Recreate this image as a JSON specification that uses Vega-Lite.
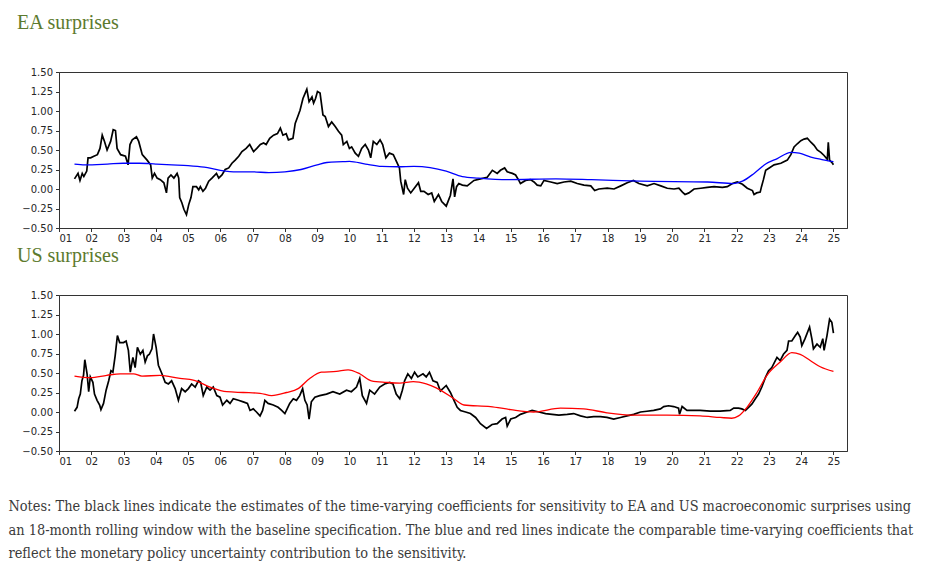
{
  "$schema": "https://vega.github.io/schema/vega-lite/v6.json",
  "padding": {"left": 8, "top": 12, "right": 10, "bottom": 10},
  "background": "white",
  "spacing": 1,
  "title": {
    "text": [
      "Notes: The black lines indicate the estimates of the time-varying coefficients for sensitivity to EA and US macroeconomic surprises using",
      "an 18-month rolling window with the baseline specification. The blue and red lines indicate the comparable time-varying coefficients that",
      "reflect the monetary policy uncertainty contribution to the sensitivity."
    ],
    "orient": "bottom",
    "anchor": "start",
    "frame": "bounds",
    "dx": -8,
    "offset": 33,
    "font": "DejaVu Serif Condensed",
    "fontSize": 14.4,
    "fontWeight": "normal",
    "lineHeight": 23.5,
    "color": "#3a3a3a"
  },
  "datasets": {
    "ea_black": [
      {"t":1.48,"v":0.13},{"t":1.59,"v":0.20},{"t":1.65,"v":0.11},{"t":1.72,"v":0.20},{"t":1.77,"v":0.16},{"t":1.86,"v":0.23},{"t":1.90,"v":0.40},{"t":1.98,"v":0.40},{"t":2.08,"v":0.42},{"t":2.19,"v":0.44},{"t":2.27,"v":0.52},{"t":2.34,"v":0.69},{"t":2.41,"v":0.61},{"t":2.49,"v":0.50},{"t":2.60,"v":0.61},{"t":2.68,"v":0.76},{"t":2.75,"v":0.75},{"t":2.80,"v":0.52},{"t":2.91,"v":0.44},{"t":3.06,"v":0.42},{"t":3.14,"v":0.31},{"t":3.20,"v":0.57},{"t":3.27,"v":0.63},{"t":3.40,"v":0.67},{"t":3.47,"v":0.61},{"t":3.58,"v":0.44},{"t":3.73,"v":0.37},{"t":3.84,"v":0.31},{"t":3.89,"v":0.14},{"t":3.96,"v":0.20},{"t":4.04,"v":0.14},{"t":4.14,"v":0.12},{"t":4.25,"v":0.08},{"t":4.33,"v":-0.05},{"t":4.38,"v":0.14},{"t":4.47,"v":0.18},{"t":4.56,"v":0.14},{"t":4.66,"v":0.20},{"t":4.71,"v":0.14},{"t":4.74,"v":-0.11},{"t":4.81,"v":-0.18},{"t":4.87,"v":-0.26},{"t":4.95,"v":-0.33},{"t":5.02,"v":-0.20},{"t":5.09,"v":-0.11},{"t":5.15,"v":0.03},{"t":5.26,"v":0.03},{"t":5.33,"v":-0.01},{"t":5.38,"v":0.03},{"t":5.46,"v":-0.03},{"t":5.54,"v":0.01},{"t":5.64,"v":0.10},{"t":5.74,"v":0.14},{"t":5.88,"v":0.20},{"t":5.95,"v":0.14},{"t":6.05,"v":0.18},{"t":6.15,"v":0.25},{"t":6.26,"v":0.27},{"t":6.36,"v":0.33},{"t":6.46,"v":0.37},{"t":6.57,"v":0.42},{"t":6.67,"v":0.48},{"t":6.80,"v":0.52},{"t":6.91,"v":0.57},{"t":7.03,"v":0.48},{"t":7.13,"v":0.52},{"t":7.24,"v":0.57},{"t":7.34,"v":0.59},{"t":7.42,"v":0.57},{"t":7.53,"v":0.65},{"t":7.65,"v":0.69},{"t":7.77,"v":0.71},{"t":7.86,"v":0.78},{"t":7.94,"v":0.69},{"t":8.04,"v":0.71},{"t":8.11,"v":0.63},{"t":8.25,"v":0.65},{"t":8.32,"v":0.84},{"t":8.40,"v":0.93},{"t":8.47,"v":1.01},{"t":8.56,"v":1.16},{"t":8.63,"v":1.23},{"t":8.68,"v":1.28},{"t":8.75,"v":1.12},{"t":8.84,"v":1.18},{"t":8.89,"v":1.10},{"t":8.95,"v":1.16},{"t":9.01,"v":1.25},{"t":9.09,"v":1.23},{"t":9.18,"v":0.95},{"t":9.25,"v":0.93},{"t":9.35,"v":0.80},{"t":9.45,"v":0.86},{"t":9.56,"v":0.80},{"t":9.66,"v":0.74},{"t":9.76,"v":0.69},{"t":9.81,"v":0.57},{"t":9.92,"v":0.61},{"t":10.00,"v":0.52},{"t":10.07,"v":0.54},{"t":10.18,"v":0.46},{"t":10.28,"v":0.42},{"t":10.38,"v":0.52},{"t":10.49,"v":0.57},{"t":10.59,"v":0.50},{"t":10.66,"v":0.40},{"t":10.74,"v":0.61},{"t":10.85,"v":0.57},{"t":10.95,"v":0.63},{"t":11.03,"v":0.57},{"t":11.13,"v":0.40},{"t":11.24,"v":0.46},{"t":11.36,"v":0.44},{"t":11.46,"v":0.35},{"t":11.55,"v":0.27},{"t":11.59,"v":0.10},{"t":11.68,"v":-0.07},{"t":11.73,"v":0.12},{"t":11.80,"v":0.01},{"t":11.90,"v":-0.05},{"t":12.01,"v":0.01},{"t":12.14,"v":0.08},{"t":12.21,"v":-0.03},{"t":12.31,"v":-0.03},{"t":12.44,"v":-0.07},{"t":12.55,"v":-0.05},{"t":12.63,"v":-0.16},{"t":12.76,"v":-0.07},{"t":12.86,"v":-0.16},{"t":13.00,"v":-0.22},{"t":13.13,"v":-0.08},{"t":13.21,"v":0.13},{"t":13.26,"v":-0.10},{"t":13.32,"v":0.03},{"t":13.39,"v":0.07},{"t":13.50,"v":0.05},{"t":13.65,"v":0.04},{"t":13.86,"v":0.11},{"t":14.06,"v":0.13},{"t":14.27,"v":0.15},{"t":14.43,"v":0.24},{"t":14.58,"v":0.20},{"t":14.68,"v":0.24},{"t":14.81,"v":0.27},{"t":14.89,"v":0.22},{"t":15.05,"v":0.20},{"t":15.15,"v":0.18},{"t":15.25,"v":0.11},{"t":15.30,"v":0.07},{"t":15.46,"v":0.11},{"t":15.61,"v":0.12},{"t":15.72,"v":0.09},{"t":15.82,"v":0.05},{"t":15.93,"v":0.04},{"t":16.03,"v":0.11},{"t":16.24,"v":0.09},{"t":16.44,"v":0.07},{"t":16.65,"v":0.09},{"t":16.86,"v":0.10},{"t":17.06,"v":0.07},{"t":17.27,"v":0.05},{"t":17.48,"v":0.04},{"t":17.60,"v":-0.02},{"t":17.73,"v":0.00},{"t":17.99,"v":0.01},{"t":18.20,"v":0.00},{"t":18.41,"v":0.04},{"t":18.61,"v":0.08},{"t":18.80,"v":0.11},{"t":18.97,"v":0.07},{"t":19.23,"v":0.04},{"t":19.44,"v":0.07},{"t":19.65,"v":0.04},{"t":19.85,"v":0.01},{"t":20.06,"v":0.00},{"t":20.21,"v":0.01},{"t":20.32,"v":-0.04},{"t":20.40,"v":-0.07},{"t":20.52,"v":-0.05},{"t":20.68,"v":0.00},{"t":20.89,"v":0.01},{"t":21.09,"v":0.02},{"t":21.30,"v":0.03},{"t":21.56,"v":0.02},{"t":21.71,"v":0.03},{"t":21.87,"v":0.07},{"t":22.02,"v":0.09},{"t":22.18,"v":0.06},{"t":22.33,"v":0.01},{"t":22.49,"v":-0.02},{"t":22.54,"v":-0.07},{"t":22.62,"v":-0.05},{"t":22.73,"v":-0.04},{"t":22.77,"v":0.03},{"t":22.83,"v":0.12},{"t":22.90,"v":0.24},{"t":23.01,"v":0.27},{"t":23.16,"v":0.31},{"t":23.37,"v":0.33},{"t":23.57,"v":0.37},{"t":23.68,"v":0.44},{"t":23.78,"v":0.54},{"t":23.88,"v":0.58},{"t":23.99,"v":0.62},{"t":24.09,"v":0.64},{"t":24.19,"v":0.65},{"t":24.30,"v":0.60},{"t":24.40,"v":0.56},{"t":24.50,"v":0.50},{"t":24.61,"v":0.47},{"t":24.71,"v":0.43},{"t":24.81,"v":0.38},{"t":24.84,"v":0.60},{"t":24.88,"v":0.37},{"t":24.97,"v":0.33},{"t":25.00,"v":0.31}
    ],
    "ea_mpu": [
      {"t":1.48,"v":0.32},{"t":1.8,"v":0.31},{"t":2.5,"v":0.32},{"t":3.0,"v":0.33},{"t":3.5,"v":0.33},{"t":4.0,"v":0.32},{"t":4.5,"v":0.31},{"t":5.0,"v":0.30},{"t":5.5,"v":0.28},{"t":6.0,"v":0.24},{"t":6.5,"v":0.22},{"t":7.0,"v":0.22},{"t":7.5,"v":0.21},{"t":8.0,"v":0.22},{"t":8.5,"v":0.25},{"t":9.0,"v":0.31},{"t":9.3,"v":0.34},{"t":9.8,"v":0.35},{"t":10.0,"v":0.355},{"t":10.5,"v":0.32},{"t":11.0,"v":0.29},{"t":11.5,"v":0.285},{"t":12.0,"v":0.29},{"t":12.5,"v":0.275},{"t":13.0,"v":0.23},{"t":13.5,"v":0.16},{"t":14.0,"v":0.14},{"t":14.9,"v":0.12},{"t":16.4,"v":0.13},{"t":17.5,"v":0.12},{"t":19.0,"v":0.10},{"t":21.1,"v":0.09},{"t":21.9,"v":0.07},{"t":22.18,"v":0.10},{"t":22.54,"v":0.20},{"t":22.9,"v":0.32},{"t":23.26,"v":0.39},{"t":23.68,"v":0.47},{"t":23.94,"v":0.46},{"t":24.3,"v":0.41},{"t":24.61,"v":0.38},{"t":25.0,"v":0.35}
    ],
    "us_black": [
      {"t":1.48,"v":0.01},{"t":1.56,"v":0.06},{"t":1.61,"v":0.17},{"t":1.66,"v":0.23},{"t":1.71,"v":0.40},{"t":1.76,"v":0.47},{"t":1.80,"v":0.67},{"t":1.87,"v":0.49},{"t":1.92,"v":0.26},{"t":1.97,"v":0.45},{"t":2.05,"v":0.38},{"t":2.10,"v":0.23},{"t":2.18,"v":0.15},{"t":2.26,"v":0.09},{"t":2.30,"v":0.03},{"t":2.38,"v":0.11},{"t":2.46,"v":0.28},{"t":2.54,"v":0.40},{"t":2.61,"v":0.53},{"t":2.67,"v":0.51},{"t":2.74,"v":0.72},{"t":2.81,"v":0.98},{"t":2.88,"v":0.89},{"t":3.00,"v":0.89},{"t":3.08,"v":0.91},{"t":3.15,"v":0.79},{"t":3.21,"v":0.51},{"t":3.29,"v":0.70},{"t":3.36,"v":0.57},{"t":3.43,"v":0.83},{"t":3.52,"v":0.74},{"t":3.60,"v":0.79},{"t":3.67,"v":0.64},{"t":3.74,"v":0.72},{"t":3.80,"v":0.74},{"t":3.88,"v":0.81},{"t":3.93,"v":1.00},{"t":4.01,"v":0.83},{"t":4.08,"v":0.60},{"t":4.19,"v":0.49},{"t":4.29,"v":0.38},{"t":4.39,"v":0.36},{"t":4.49,"v":0.40},{"t":4.60,"v":0.30},{"t":4.70,"v":0.15},{"t":4.80,"v":0.30},{"t":4.91,"v":0.26},{"t":5.01,"v":0.30},{"t":5.11,"v":0.36},{"t":5.22,"v":0.32},{"t":5.32,"v":0.40},{"t":5.39,"v":0.38},{"t":5.47,"v":0.21},{"t":5.58,"v":0.32},{"t":5.68,"v":0.28},{"t":5.78,"v":0.32},{"t":5.89,"v":0.21},{"t":5.99,"v":0.19},{"t":6.07,"v":0.09},{"t":6.20,"v":0.15},{"t":6.30,"v":0.11},{"t":6.40,"v":0.17},{"t":6.56,"v":0.15},{"t":6.71,"v":0.13},{"t":6.84,"v":0.11},{"t":6.92,"v":0.02},{"t":7.02,"v":0.04},{"t":7.12,"v":0.00},{"t":7.23,"v":-0.05},{"t":7.31,"v":0.02},{"t":7.38,"v":0.15},{"t":7.48,"v":0.11},{"t":7.64,"v":0.09},{"t":7.79,"v":0.06},{"t":7.90,"v":0.02},{"t":8.00,"v":-0.02},{"t":8.07,"v":0.04},{"t":8.15,"v":0.11},{"t":8.26,"v":0.17},{"t":8.36,"v":0.15},{"t":8.46,"v":0.21},{"t":8.55,"v":0.30},{"t":8.62,"v":0.15},{"t":8.69,"v":0.09},{"t":8.75,"v":-0.09},{"t":8.82,"v":0.13},{"t":8.93,"v":0.19},{"t":9.08,"v":0.21},{"t":9.29,"v":0.23},{"t":9.49,"v":0.26},{"t":9.70,"v":0.23},{"t":9.91,"v":0.28},{"t":10.06,"v":0.26},{"t":10.22,"v":0.32},{"t":10.32,"v":0.43},{"t":10.40,"v":0.21},{"t":10.53,"v":0.11},{"t":10.63,"v":0.28},{"t":10.78,"v":0.23},{"t":10.94,"v":0.32},{"t":11.09,"v":0.36},{"t":11.25,"v":0.38},{"t":11.35,"v":0.36},{"t":11.45,"v":0.23},{"t":11.56,"v":0.17},{"t":11.64,"v":0.28},{"t":11.71,"v":0.40},{"t":11.81,"v":0.49},{"t":11.92,"v":0.43},{"t":12.02,"v":0.51},{"t":12.12,"v":0.45},{"t":12.28,"v":0.49},{"t":12.38,"v":0.45},{"t":12.48,"v":0.51},{"t":12.59,"v":0.40},{"t":12.72,"v":0.38},{"t":12.82,"v":0.27},{"t":13.00,"v":0.34},{"t":13.13,"v":0.25},{"t":13.24,"v":0.15},{"t":13.34,"v":0.06},{"t":13.44,"v":0.02},{"t":13.60,"v":0.00},{"t":13.75,"v":-0.02},{"t":13.91,"v":-0.07},{"t":14.06,"v":-0.15},{"t":14.25,"v":-0.21},{"t":14.42,"v":-0.16},{"t":14.58,"v":-0.15},{"t":14.73,"v":-0.09},{"t":14.84,"v":-0.07},{"t":14.89,"v":-0.18},{"t":15.00,"v":-0.09},{"t":15.15,"v":-0.07},{"t":15.30,"v":-0.03},{"t":15.51,"v":0.00},{"t":15.66,"v":0.02},{"t":15.87,"v":0.00},{"t":16.08,"v":-0.02},{"t":16.28,"v":-0.03},{"t":16.49,"v":-0.04},{"t":16.75,"v":-0.03},{"t":16.95,"v":-0.02},{"t":17.16,"v":-0.05},{"t":17.37,"v":-0.07},{"t":17.57,"v":-0.06},{"t":17.78,"v":-0.06},{"t":17.98,"v":-0.07},{"t":18.19,"v":-0.09},{"t":18.40,"v":-0.07},{"t":18.60,"v":-0.05},{"t":18.81,"v":-0.03},{"t":19.02,"v":0.00},{"t":19.22,"v":0.01},{"t":19.43,"v":0.02},{"t":19.64,"v":0.04},{"t":19.74,"v":0.07},{"t":19.89,"v":0.08},{"t":20.05,"v":0.07},{"t":20.20,"v":0.05},{"t":20.23,"v":-0.03},{"t":20.31,"v":0.07},{"t":20.46,"v":0.02},{"t":20.67,"v":0.02},{"t":20.87,"v":0.02},{"t":21.18,"v":0.01},{"t":21.49,"v":0.01},{"t":21.80,"v":0.02},{"t":21.91,"v":0.05},{"t":22.06,"v":0.05},{"t":22.16,"v":0.04},{"t":22.27,"v":0.02},{"t":22.37,"v":0.06},{"t":22.47,"v":0.10},{"t":22.58,"v":0.17},{"t":22.68,"v":0.23},{"t":22.78,"v":0.32},{"t":22.89,"v":0.44},{"t":22.99,"v":0.53},{"t":23.09,"v":0.57},{"t":23.25,"v":0.70},{"t":23.35,"v":0.66},{"t":23.45,"v":0.74},{"t":23.56,"v":0.79},{"t":23.61,"v":0.91},{"t":23.71,"v":0.91},{"t":23.82,"v":0.98},{"t":23.89,"v":1.02},{"t":23.97,"v":0.96},{"t":24.02,"v":0.85},{"t":24.12,"v":0.94},{"t":24.26,"v":1.09},{"t":24.33,"v":0.94},{"t":24.38,"v":0.81},{"t":24.49,"v":0.87},{"t":24.59,"v":0.83},{"t":24.67,"v":0.94},{"t":24.71,"v":0.79},{"t":24.80,"v":0.98},{"t":24.88,"v":1.19},{"t":24.95,"v":1.15},{"t":25.00,"v":1.01}
    ],
    "us_mpu": [
      {"t":1.48,"v":0.46},{"t":1.97,"v":0.44},{"t":2.48,"v":0.47},{"t":2.90,"v":0.49},{"t":3.31,"v":0.49},{"t":3.57,"v":0.46},{"t":4.13,"v":0.47},{"t":4.75,"v":0.43},{"t":5.16,"v":0.41},{"t":5.68,"v":0.32},{"t":6.20,"v":0.26},{"t":6.71,"v":0.25},{"t":7.23,"v":0.24},{"t":7.59,"v":0.21},{"t":8.05,"v":0.25},{"t":8.41,"v":0.30},{"t":8.77,"v":0.43},{"t":9.13,"v":0.51},{"t":9.60,"v":0.52},{"t":9.96,"v":0.54},{"t":10.32,"v":0.49},{"t":10.68,"v":0.40},{"t":11.14,"v":0.38},{"t":11.56,"v":0.37},{"t":11.98,"v":0.39},{"t":12.38,"v":0.36},{"t":12.69,"v":0.31},{"t":13.24,"v":0.17},{"t":13.55,"v":0.09},{"t":14.37,"v":0.07},{"t":15.00,"v":0.03},{"t":15.71,"v":0.00},{"t":16.54,"v":0.05},{"t":17.26,"v":0.04},{"t":17.98,"v":-0.01},{"t":18.81,"v":-0.04},{"t":19.84,"v":-0.04},{"t":20.87,"v":-0.05},{"t":21.49,"v":-0.07},{"t":21.85,"v":-0.08},{"t":22.06,"v":-0.05},{"t":22.32,"v":0.06},{"t":22.63,"v":0.25},{"t":22.94,"v":0.47},{"t":23.35,"v":0.64},{"t":23.71,"v":0.76},{"t":23.97,"v":0.74},{"t":24.28,"v":0.66},{"t":24.59,"v":0.58},{"t":25.00,"v":0.52}
    ]
  },
  "vconcat": [
    {
      "width": 788,
      "height": 156,
      "title": {"text": "EA surprises", "offset": 34, "dx": -4},
      "encoding": {
        "x": {
          "field": "t", "type": "quantitative",
          "scale": {"domain": [1, 25.42], "nice": false, "zero": false},
          "axis": {"values": [1,2,3,4,5,6,7,8,9,10,11,12,13,14,15,16,17,18,19,20,21,22,23,24,25], "format": "02d", "title": null}
        },
        "y": {
          "field": "v", "type": "quantitative",
          "scale": {"domain": [-0.5, 1.5], "nice": false},
          "axis": {"values": [-0.5,-0.25,0,0.25,0.5,0.75,1,1.25,1.5], "format": ".2f", "title": null, "minExtent": 38, "maxExtent": 38}
        }
      },
      "layer": [
        {"data": {"name": "ea_black"}, "mark": {"type": "line", "color": "#000000", "strokeWidth": 1.7}},
        {"data": {"name": "ea_mpu"}, "mark": {"type": "line", "color": "#0000ff", "strokeWidth": 1.3, "interpolate": "monotone"}},
        {"data": {"values": [{"z": 0}]}, "mark": {"type": "rule", "color": "#000000", "strokeWidth": 1.4}, "encoding": {"y": {"datum": 0}, "x": null}}
      ]
    },
    {
      "width": 788,
      "height": 156,
      "title": {"text": "US surprises", "offset": 24, "dx": -4},
      "encoding": {
        "x": {
          "field": "t", "type": "quantitative",
          "scale": {"domain": [1, 25.42], "nice": false, "zero": false},
          "axis": {"values": [1,2,3,4,5,6,7,8,9,10,11,12,13,14,15,16,17,18,19,20,21,22,23,24,25], "format": "02d", "title": null}
        },
        "y": {
          "field": "v", "type": "quantitative",
          "scale": {"domain": [-0.5, 1.5], "nice": false},
          "axis": {"values": [-0.5,-0.25,0,0.25,0.5,0.75,1,1.25,1.5], "format": ".2f", "title": null, "minExtent": 38, "maxExtent": 38}
        }
      },
      "layer": [
        {"data": {"name": "us_black"}, "mark": {"type": "line", "color": "#000000", "strokeWidth": 1.7}},
        {"data": {"name": "us_mpu"}, "mark": {"type": "line", "color": "#ff0000", "strokeWidth": 1.3, "interpolate": "monotone"}},
        {"data": {"values": [{"z": 0}]}, "mark": {"type": "rule", "color": "#000000", "strokeWidth": 1.4}, "encoding": {"y": {"datum": 0}, "x": null}}
      ]
    }
  ],
  "config": {
    "view": {"stroke": "#333333", "strokeWidth": 1},
    "title": {
      "anchor": "start",
      "frame": "bounds",
      "font": "Liberation Serif",
      "fontSize": 20,
      "fontWeight": "normal",
      "color": "#5c7a2e"
    },
    "axis": {
      "grid": false,
      "domainColor": "#333333",
      "tickColor": "#333333",
      "tickSize": 3.5,
      "labelFont": "DejaVu Sans",
      "labelFontSize": 10,
      "labelColor": "#262626",
      "labelPadding": 3
    },
    "axisX": {"labelPadding": 2}
  }
}
